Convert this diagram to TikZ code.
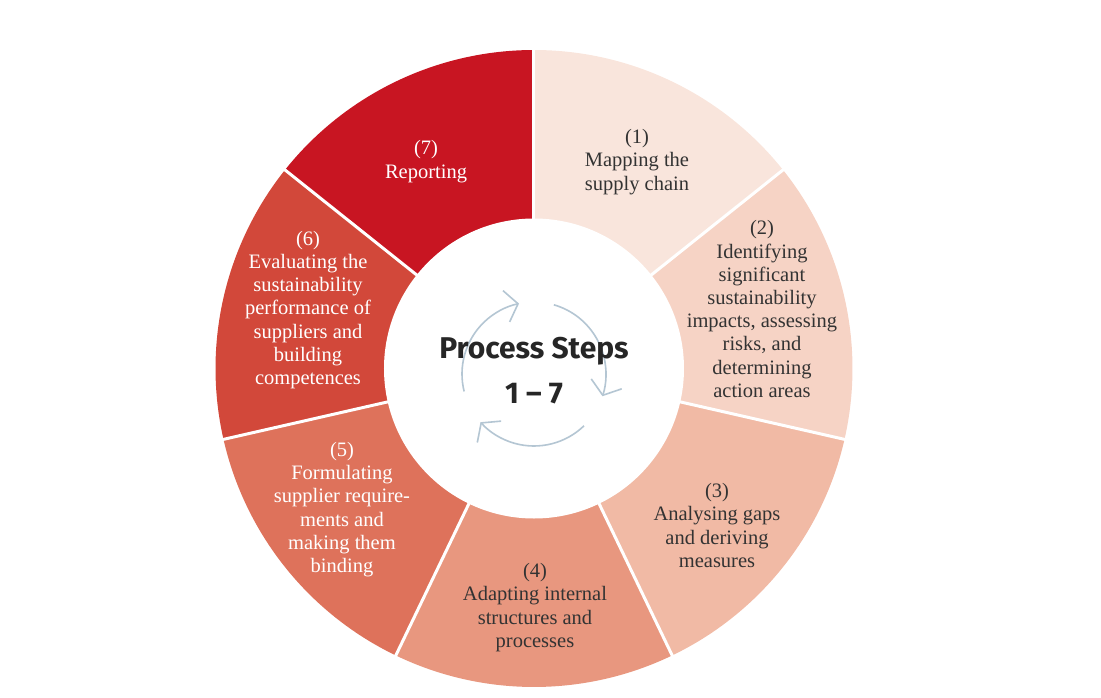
\documentclass[tikz,border=0pt]{standalone}
\usepackage{fontspec}
\setmainfont{Liberation Serif}
\newfontfamily\titlefont{Fira Sans}
\usetikzlibrary{arrows.meta}
\definecolor{stepA}{HTML}{F9E5DC}
\definecolor{stepB}{HTML}{F6D3C5}
\definecolor{stepC}{HTML}{F1BAA5}
\definecolor{stepD}{HTML}{E8977F}
\definecolor{stepE}{HTML}{DE725B}
\definecolor{stepF}{HTML}{D2483A}
\definecolor{stepG}{HTML}{C81522}
\definecolor{inktext}{HTML}{333333}
\definecolor{cyclegrey}{HTML}{B4C6D3}
\tikzset{
  darktxt/.style={align=center,inner sep=0pt,text=inktext,font=\fontsize{20.5}{23.2}\selectfont},
  lighttxt/.style={darktxt,text=white},
  titletxt/.style={align=center,inner sep=0pt,text=black!85,font=\titlefont\bfseries\fontsize{30}{45}\selectfont},
  sep/.style={white,line width=3pt},
  cyc/.style={cyclegrey,line width=1.6pt,-{Straight Barb[length=12pt,width=32pt]}}
}
\begin{document}
\begin{tikzpicture}[x=1pt,y=1pt]
\pgfmathsetmacro{\R}{318.5}
\pgfmathsetmacro{\r}{150}
\pgfmathsetmacro{\w}{360/7}
\useasboundingbox (-534,-328.5) rectangle (567,368.5);
% ring segments
\foreach \i/\c in {1/stepA,2/stepB,3/stepC,4/stepD,5/stepE,6/stepF,7/stepG}{
  \pgfmathsetmacro{\a}{90-(\i-1)*\w}
  \pgfmathsetmacro{\b}{90-\i*\w}
  \fill[\c](0,0)--(\a:\R)arc[start angle=\a,end angle=\b,radius=\R]--cycle;
}
\foreach \i in {1,...,7}{
  \draw[sep](0,0)--({90-(\i-1)*\w}:\R+2);
}
\fill[white](0,0)coordinate(mid)circle[radius=\r];
% cycle arrows
\foreach \s in {194,74,-46}{
  \draw[cyc]([shift={(\s:72)}]0,-5.5)arc[start angle=\s,end angle=\s-92,radius=72];
}
\node[titletxt](ttl) at (0,-2){Process Steps\\1 – 7};
% step labels
\node[darktxt](s1) at (103,206.5){(1)\\Mapping the\\supply chain};
\node[darktxt](s2) at (228,59.5){(2)\\Identifying\\significant\\sustainability\\impacts, assessing\\risks, and\\determining\\action areas};
\node[darktxt](s3) at (183,-157){(3)\\Analysing gaps\\and deriving\\measures};
\node[darktxt](s4) at (1,-239){(4)\\Adapting internal\\structures and\\processes};
\node[lighttxt](s5) at (-192,-141){(5)\\Formulating\\supplier require-\\ments and\\making them\\binding};
\node[lighttxt](s6) at (-226,58.5){(6)\\Evaluating the\\sustainability\\performance of\\suppliers and\\building\\competences};
\node[lighttxt](s7) at (-108,207){(7)\\Reporting};
\end{tikzpicture}
\end{document}
